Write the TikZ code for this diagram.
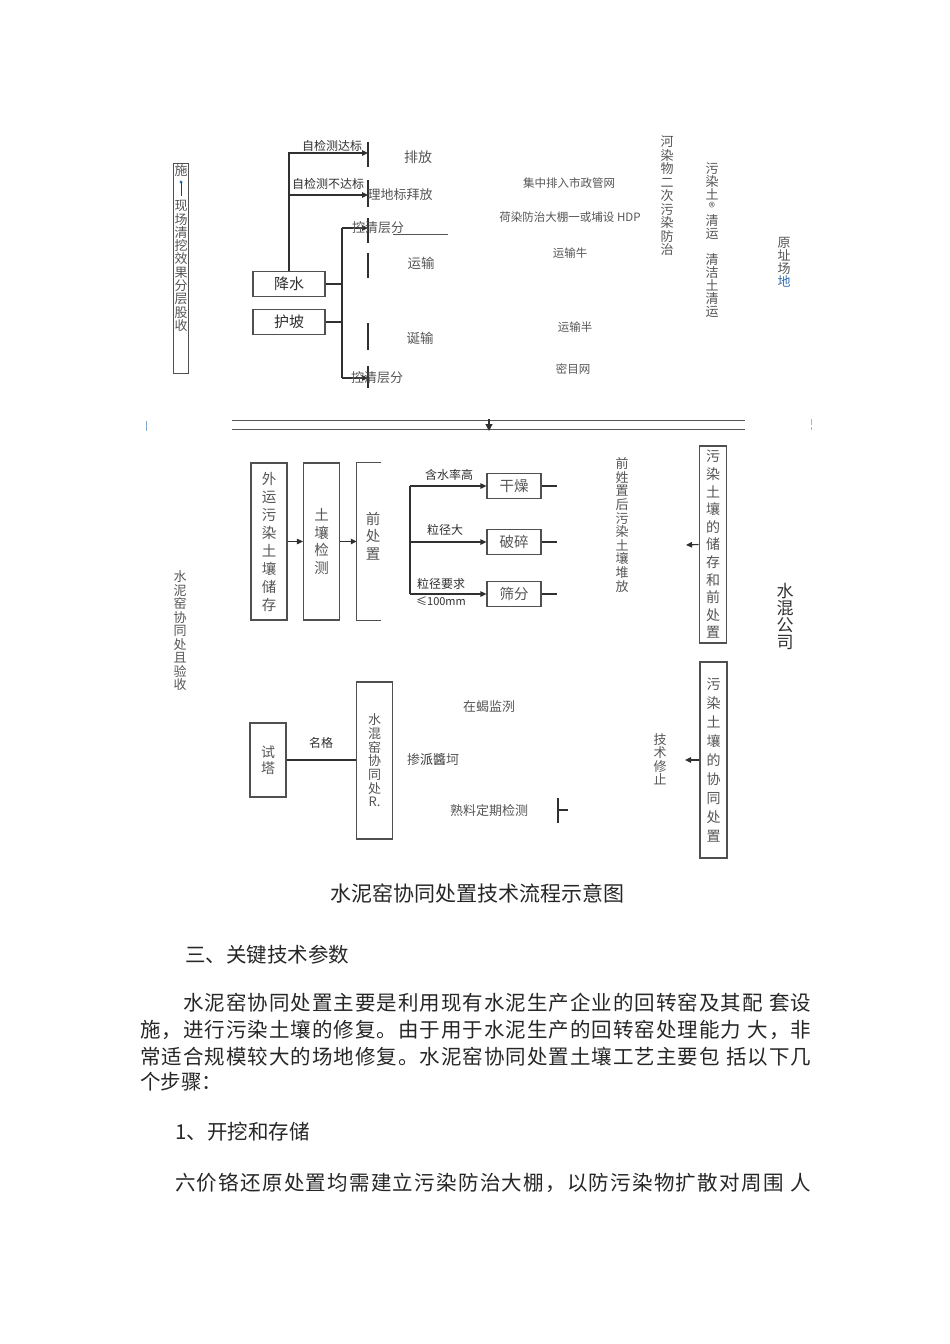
\documentclass[tikz,border=0pt]{standalone}
\usepackage{fontspec}
\setmainfont{Noto Sans CJK SC}
\usetikzlibrary{arrows.meta}
\definecolor{tg}{HTML}{555555}
\definecolor{lnc}{HTML}{303030}
\definecolor{bx}{HTML}{505050}
\definecolor{bl}{HTML}{3070B0}
\newcommand{\fs}[2]{\fontsize{#1}{#2}\selectfont}
\makeatletter
\def\jl@loop#1{\ifx#1\relax\else#1\hfil\expandafter\jl@loop\fi}
\newcommand\jline[2]{\hbox to #1{\jl@loop#2\relax\unskip}}
\makeatother
\begin{document}
\begin{tikzpicture}[x=1pt,y=-1pt,
  lbl/.style={inner sep=0pt, text=tg, align=center},
  box/.style={draw=bx, line width=1.2pt, fill=white, inner sep=0pt, align=center, text=tg},
  ln/.style={draw=lnc, line width=1.1pt},
  arr/.style={ln, -{Triangle[length=6pt,width=5.5pt]}},
  tickln/.style={draw=lnc, line width=1.5pt},
  body/.style={inner sep=0pt, anchor=west, text=black!85, font=\fs{20.5}{20.5}}
]
\useasboundingbox (0,0) rectangle (950,1344);

% ---------------- top section ----------------
\node[draw=bx, line width=1pt, minimum width=15pt, minimum height=210pt, inner sep=0pt] (lb) at (181,268) {};
\node[lbl, font=\fs{13}{13}] (lbt1) at (181,171) {施};
\fill[bl] (181,182) circle (1.6pt);
\draw[bl!60!black, line width=0.8pt] (181,182) -- (181,196);
\node[lbl, font=\fs{13}{13.3}] (lbt2) at (181,266) {现\\场\\清\\挖\\效\\果\\分\\层\\股\\收};

\node[box, minimum width=72pt, minimum height=25pt, font=\fs{15}{15}, text=lnc] (js) at (289,284) {降水};
\node[box, minimum width=72pt, minimum height=25pt, font=\fs{15}{15}, text=lnc] (hp) at (289,322) {护坡};

\coordinate (t1) at (368,153);
\coordinate (t2) at (368,195);
\coordinate (t3) at (368,228);
\coordinate (t6) at (368,378);
\draw[tickln] (368,142) -- (368,167);
\draw[tickln] (368,180) -- (368,207);
\draw[tickln] (368,218) -- (368,243);
\draw[tickln] (368,253) -- (368,278);
\draw[tickln] (368,323) -- (368,350);
\draw[tickln] (368,366) -- (368,388);

\draw[arr] (js.north) |- (t1);
\coordinate (b2) at (js.north |- t2);
\draw[arr] (b2) -- (t2);
\coordinate (vt) at (342,228);
\coordinate (vb) at (342,378);
\draw[ln] (vt) -- (vb);
\draw[ln] (js.east) -- (js.east -| vt);
\draw[ln] (hp.east) -- (hp.east -| vt);
\draw[arr] (vt) -- (t3);
\draw[arr] (vb) -- (t6);

\node[lbl, font=\fs{12}{12}, text=lnc] (l1) at (332,146) {自检测达标};
\node[lbl, font=\fs{12}{12}, text=lnc] (l2) at (328,184) {自检测不达标};
\node[lbl, font=\fs{14}{14}] (pf) at (418,157) {排放};
\node[lbl, font=\fs{13}{13}] (mf) at (400,195) {理地标拜放};
\node[lbl, font=\fs{13}{13}] (kq1) at (378,228) {控清层分};
\node[lbl, font=\fs{13}{13}] (kq2) at (377,378) {控清层分};
\draw[draw=tg, line width=0.8pt] (393,234) -- (448,234);
\node[lbl, font=\fs{13.5}{13.5}] (ys1) at (421,263) {运输};
\node[lbl, font=\fs{13.5}{13.5}] (ys2) at (420,338) {诞输};

\node[lbl, font=\fs{11.5}{11.5}] (jz) at (569,183) {集中排入市政管网};
\node[lbl, font=\fs{11.5}{11.5}] (hr) at (570,217) {荷染防治大棚一或埔设 HDP};
\node[lbl, font=\fs{11.5}{11.5}] (ysn) at (570,253) {运输牛};
\node[lbl, font=\fs{11.5}{11.5}] (ysb) at (575,327) {运输半};
\node[lbl, font=\fs{11.5}{11.5}] (mm) at (573,369) {密目网};

\node[lbl, font=\fs{13}{13.5}] (hrw) at (667,196) {河\\染\\物\\二\\次\\污\\染\\防\\治};
\node[lbl, font=\fs{13}{13}] (wr) at (712,240) {污\\染\\土\\®\\清\\运\\[13pt]清\\洁\\土\\清\\运};
\node[lbl, font=\fs{13}{13}] (yz) at (784,262) {原\\址\\场\\{\color{bl}地}};

% ---------------- separator ----------------
\draw[draw=tg, line width=0.9pt] (232,420) -- (745,420);
\draw[draw=tg, line width=0.9pt] (232,429) -- (745,429);
\coordinate (ad1) at (489,419);
\coordinate (ad2) at (489,431);
\draw[ln, -{Triangle[length=7pt,width=7pt]}] (ad1) -- (ad2);
\draw[bl!60, line width=0.8pt] (146,421) -- (146,431);
\draw[bl!50, line width=0.8pt, dash pattern=on 6pt off 2pt] (811,419) -- (811,430);

% ---------------- middle section ----------------
\node[box, minimum width=36pt, minimum height=157pt, font=\fs{14.5}{18}] (wy) at (269,541.5) {外\\运\\污\\染\\土\\壤\\储\\存};
\node[box, minimum width=36pt, minimum height=157pt, font=\fs{14.5}{17.5}] (tr) at (321.5,541.5) {土\\壤\\检\\测};
\node[inner sep=0pt, minimum width=24pt, minimum height=157pt] (qc) at (369,541.5) {};
\draw[draw=bx, line width=1.2pt] (qc.north east) -- (qc.north west) -- (qc.south west) -- (qc.south east);
\node[lbl, font=\fs{14.5}{17.5}] (qct) at (373,536) {前\\处\\置};
\draw[arr] (wy.east) -- (tr.west);
\draw[arr] (tr.east) -- (qc.west);

\node[box, minimum width=54pt, minimum height=25pt, font=\fs{14.5}{14.5}] (gz) at (514,486) {干燥};
\node[box, minimum width=54pt, minimum height=25pt, font=\fs{14.5}{14.5}] (ps) at (514,542) {破碎};
\node[box, minimum width=54pt, minimum height=25pt, font=\fs{14.5}{14.5}] (sf) at (514,594) {筛分};
\coordinate (bt) at (410,486);
\coordinate (bm) at (410,542);
\coordinate (bb) at (410,594);
\draw[ln] (bt) -- (bb);
\draw[arr] (bt) -- (gz.west);
\draw[arr] (bm) -- (ps.west);
\draw[arr] (bb) -- (sf.west);
\coordinate (o1) at (557,486);
\coordinate (o2) at (557,542);
\coordinate (o3) at (557,594);
\draw[ln] (gz.east) -- (o1);
\draw[ln] (ps.east) -- (o2);
\draw[ln] (sf.east) -- (o3);
\node[lbl, font=\fs{12}{12}, text=lnc] (c1) at (449,475) {含水率高};
\node[lbl, font=\fs{12}{12}, text=lnc] (c2) at (445,530) {粒径大};
\node[lbl, font=\fs{12}{12}, text=lnc] (c3) at (441,584) {粒径要求};
\node[lbl, font=\fs{11}{11}, text=lnc] (c4) at (441,601) {≤100mm};

\node[lbl, font=\fs{13}{13.6}] (qz) at (622,525) {前\\姓\\置\\后\\污\\染\\土\\壤\\堆\\放};
\node[box, line width=1.7pt, minimum width=27pt, minimum height=197pt, font=\fs{14}{17.6}] (rb1) at (713,544.5) {污\\染\\土\\壤\\的\\储\\存\\和\\前\\处\\置};
\coordinate (a1) at (686,545);
\draw[arr] (rb1.west) -- (a1);
\node[lbl, font=\fs{17}{17}, text=lnc] (sngs) at (785,616) {水\\混\\公\\司};
\node[lbl, font=\fs{13}{13.5}] (snys) at (180,631) {水\\泥\\窑\\协\\同\\处\\且\\验\\收};

% ---------------- bottom section ----------------
\node[box, minimum width=36pt, minimum height=74pt, font=\fs{14}{16}] (st) at (268,760) {试\\塔};
\node[box, minimum width=36pt, minimum height=157pt, font=\fs{13}{13.7}] (sn) at (374.5,760.5) {水\\混\\窑\\协\\同\\处\\R.};
\draw[draw=lnc, line width=1.2pt] (st.east) -- (st.east -| sn.west);
\node[lbl, font=\fs{12}{12}, text=lnc] (mg) at (321,743) {名格};
\node[lbl, font=\fs{13}{13}] (zx) at (489,707) {在蝎监洌};
\node[lbl, font=\fs{13}{13}] (cp) at (433,760) {掺{\color{lnc}派醬}坷};
\node[lbl, font=\fs{13}{13}] (sl) at (489,811) {熟料定期检测};
\draw[tickln] (558,798) -- (558,823);
\draw[ln] (558,810) -- (568,810);
\node[lbl, font=\fs{13}{13.5}] (js2) at (660,759) {技\\术\\修\\止};
\node[box, line width=1.7pt, minimum width=27pt, minimum height=196pt, font=\fs{14}{19}] (rb2) at (713.5,760) {污\\染\\土\\壤\\的\\协\\同\\处\\置};
\coordinate (a2) at (685,760);
\draw[arr] (rb2.west) -- (a2);

% ---------------- caption and body ----------------
\node[inner sep=0pt, text=black!85, font=\fs{21}{21}] (cap) at (477,893) {水泥窑协同处置技术流程示意图};
\node[body] (h3) at (185,955) {三、关键技术参数};
\node[body] (p1) at (183,1003) {\jline{628pt}{水泥窑协同处置主要是利用现有水泥生产企业的回转窑及其配\ 套设}};
\node[body] (p2) at (140,1030) {\jline{671pt}{施，进行污染土壤的修复。由于用于水泥生产的回转窑处理能力\ 大，非}};
\node[body] (p3) at (140,1057) {\jline{671pt}{常适合规模较大的场地修复。水泥窑协同处置土壤工艺主要包\ 括以下几}};
\node[body] (p4) at (140,1082) {个步骤：};
\node[body] (h1) at (175,1132) {1、开挖和存储};
\node[body] (p5) at (175,1183) {\jline{636pt}{六价铬还原处置均需建立污染防治大棚，以防污染物扩散对周围\ 人}};
\end{tikzpicture}
\end{document}
